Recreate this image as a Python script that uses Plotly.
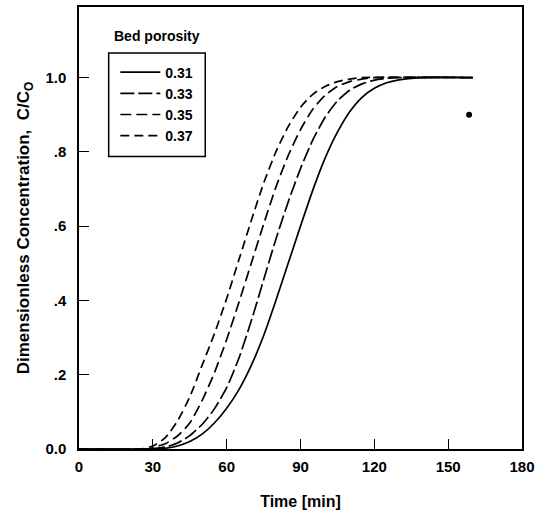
import plotly.graph_objects as go

# Data
t_031 = [0, 30, 35, 40, 45, 50, 55, 60, 65, 70, 75, 80, 85, 90, 95, 100, 105, 110, 115, 120, 125, 130, 135, 140, 160]
c_031 = [0, 0, 0.002, 0.008, 0.02, 0.04, 0.07, 0.11, 0.16, 0.225, 0.305, 0.4, 0.5, 0.6, 0.697, 0.783, 0.853, 0.908, 0.947, 0.971, 0.986, 0.994, 0.998, 1.0, 1.0]

t_033 = [0, 30, 35, 40, 45, 50, 55, 60, 65, 70, 75, 80, 85, 90, 95, 100, 105, 110, 115, 120, 125, 130, 160]
c_033 = [0, 0.001, 0.005, 0.016, 0.036, 0.066, 0.108, 0.165, 0.245, 0.345, 0.455, 0.565, 0.665, 0.755, 0.832, 0.893, 0.937, 0.966, 0.983, 0.993, 0.998, 1.0, 1.0]

t_035 = [0, 28, 30, 35, 40, 45, 50, 55, 60, 65, 70, 75, 80, 85, 90, 95, 100, 105, 110, 115, 120, 160]
c_035 = [0, 0, 0.004, 0.014, 0.035, 0.07, 0.13, 0.205, 0.295, 0.395, 0.5, 0.605, 0.705, 0.79, 0.86, 0.915, 0.952, 0.976, 0.989, 0.996, 1.0, 1.0]

t_037 = [0, 25, 30, 35, 40, 45, 50, 55, 60, 65, 70, 75, 80, 85, 90, 95, 100, 105, 110, 115, 160]
c_037 = [0, 0, 0.008, 0.03, 0.075, 0.14, 0.225, 0.31, 0.405, 0.51, 0.615, 0.715, 0.8, 0.868, 0.92, 0.955, 0.976, 0.989, 0.996, 1.0, 1.0]

dot_t = [158.5]
dot_c = [0.9]

series_names = ["0.31", "0.33", "0.35", "0.37"]
x_ticks = [0, 30, 60, 90, 120, 150, 180]
y_ticks = [0, 0.2, 0.4, 0.6, 0.8, 1.0]
y_tick_labels = ["0.0", ".2", ".4", ".6", ".8", "1.0"]

FONT = "Liberation Sans, Arial, Helvetica, sans-serif"
dashes = ["solid", "14px,4px", "11px,5px", "9px,5px"]

fig = go.Figure()
for name, t, c, d in zip(series_names, [t_031, t_033, t_035, t_037],
                         [c_031, c_033, c_035, c_037], dashes):
    fig.add_trace(go.Scatter(x=t, y=c, mode="lines", name=name,
                             line=dict(color="black", width=1.7, dash=d,
                                       shape="spline", smoothing=0.6)))

fig.add_trace(go.Scatter(x=dot_t, y=dot_c, mode="markers", showlegend=False,
                         marker=dict(color="black", size=6)))

axis_common = dict(showline=True, linecolor="black", linewidth=1.5, mirror=True,
                   ticks="inside", ticklen=10, tickwidth=1, tickcolor="black",
                   showgrid=False, zeroline=False,
                   tickfont=dict(family=FONT, size=15, color="black", weight="bold"))

fig.update_xaxes(range=[0, 180], tickvals=x_ticks, ticklabelstandoff=3,
                 title=dict(text="Time [min]", standoff=22,
                            font=dict(family=FONT, size=16, color="black", weight="bold")),
                 **axis_common)
fig.update_yaxes(range=[0, 1.19], tickvals=y_ticks, ticktext=y_tick_labels,
                 ticklabelstandoff=8,
                 title=dict(text="Dimensionless Concentration,  C/C<sub>O</sub>", standoff=11,
                            font=dict(family=FONT, size=17, color="black", weight="bold")),
                 **axis_common)

fig.update_layout(
    width=549, height=514,
    margin=dict(l=79, r=27, t=5, b=65),
    paper_bgcolor="white", plot_bgcolor="white",
    legend=dict(x=0.082, y=0.888, xanchor="left", yanchor="top",
                itemwidth=40,
                bgcolor="rgba(0,0,0,0)", borderwidth=0,
                font=dict(family=FONT, size=14, color="black", weight="bold")),
    shapes=[dict(type="rect", xref="paper", yref="paper",
                 x0=0.067, x1=0.285, y0=0.662, y1=0.896,
                 line=dict(color="black", width=1.5))],
    annotations=[dict(text="Bed porosity", xref="paper", yref="paper",
                      x=0.176, y=0.935, xanchor="center", yanchor="middle",
                      showarrow=False,
                      font=dict(family=FONT, size=14, color="black", weight="bold"))],
)

fig.write_html("out.html", config={"displayModeBar": False},
               post_script="document.body.style.margin='0';")
